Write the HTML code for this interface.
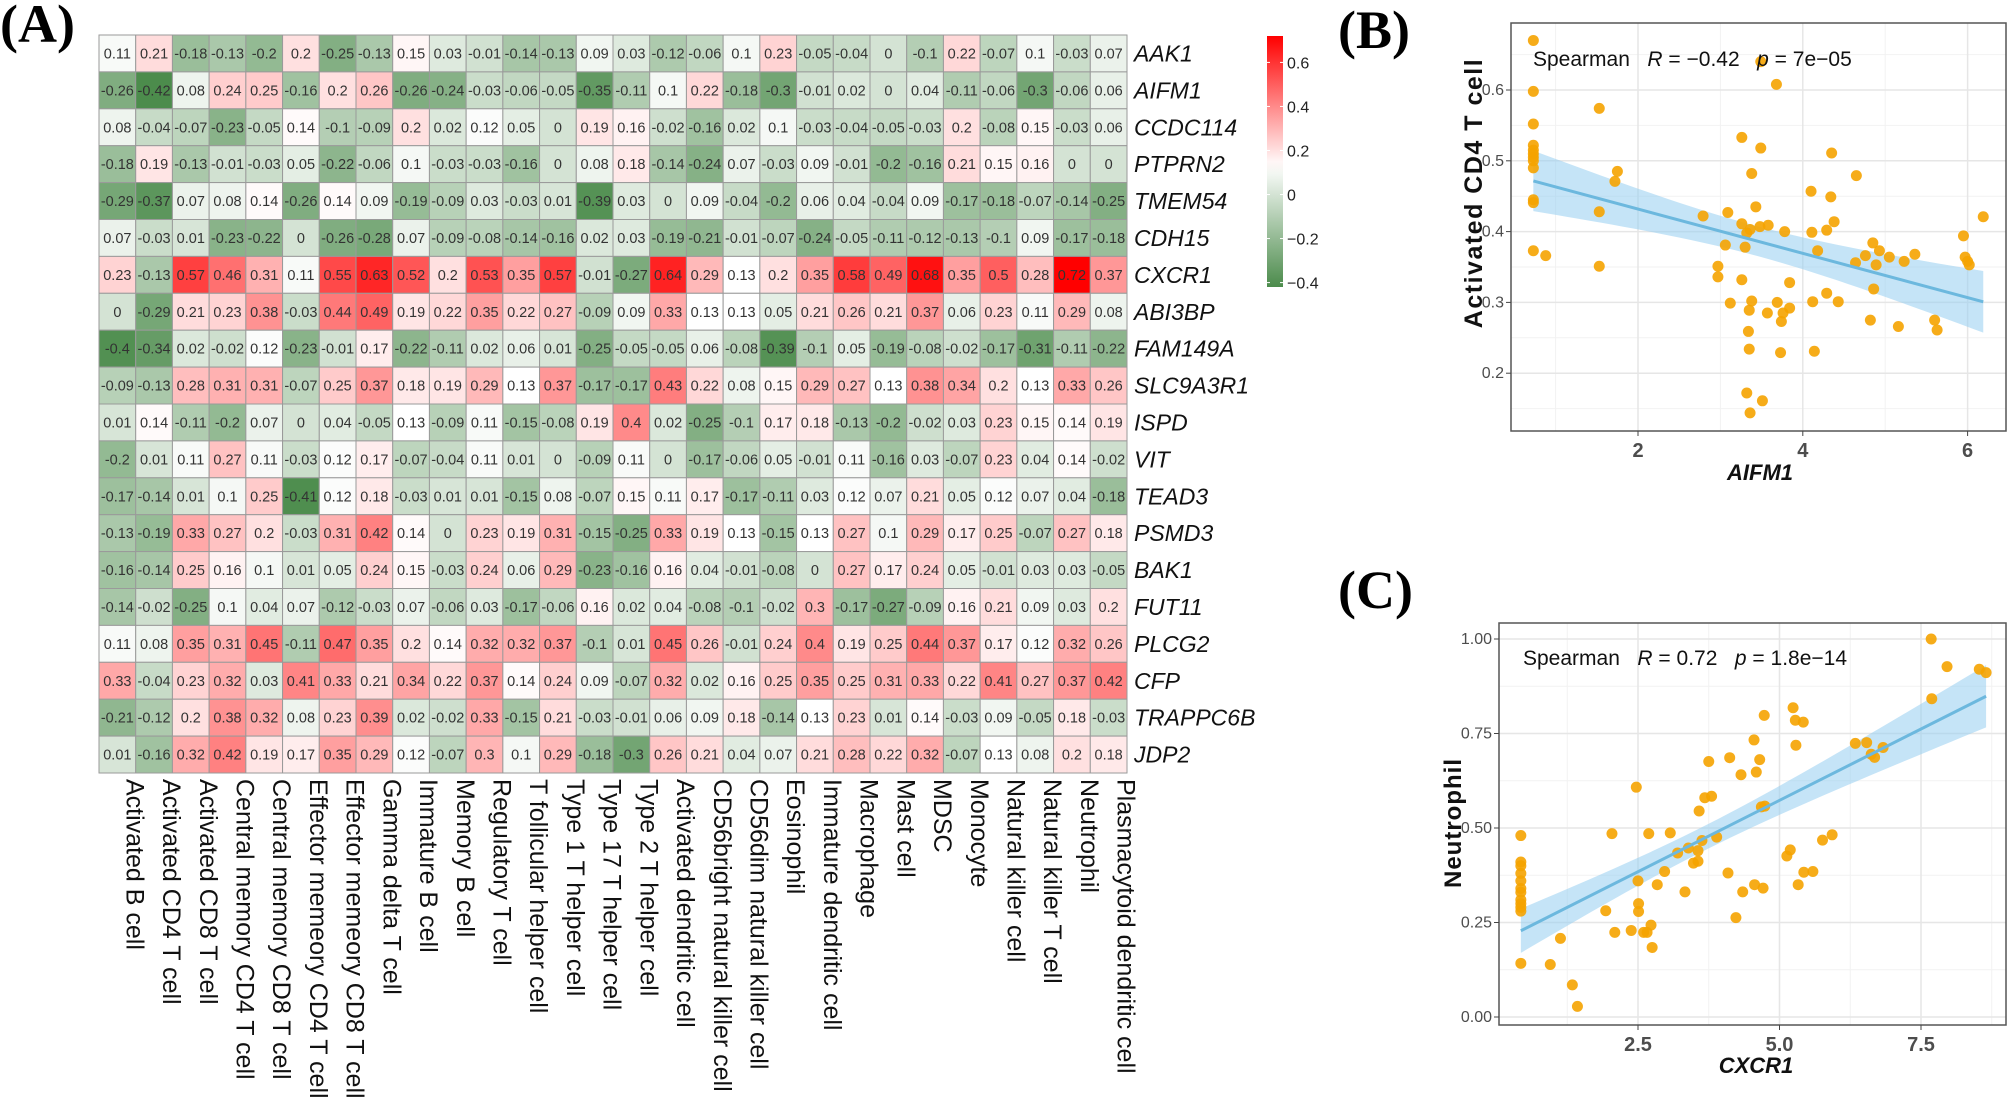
<!DOCTYPE html>
<html><head><meta charset="utf-8"><style>
html,body{margin:0;padding:0;background:#fff;}
svg{display:block;}
text{font-family:"Liberation Sans",Arial,sans-serif;}
</style></head><body>
<svg id="fig" width="2008" height="1100" viewBox="0 0 2008 1100" xmlns="http://www.w3.org/2000/svg">
<text x="0" y="42" style="font-family:'Liberation Serif',serif" font-weight="bold" font-size="54">(A)</text>
<text x="1338" y="48" style="font-family:'Liberation Serif',serif" font-weight="bold" font-size="54">(B)</text>
<text x="1338" y="608" style="font-family:'Liberation Serif',serif" font-weight="bold" font-size="54">(C)</text>
<g id="heat"></g>
<g id="legend"></g>
<g id="pb"></g>
<g id="pc"></g>
</svg>
<script>
const genes=["AAK1","AIFM1","CCDC114","PTPRN2","TMEM54","CDH15","CXCR1","ABI3BP","FAM149A","SLC9A3R1","ISPD","VIT","TEAD3","PSMD3","BAK1","FUT11","PLCG2","CFP","TRAPPC6B","JDP2"];
const cells=["Activated B cell","Activated CD4 T cell","Activated CD8 T cell","Central memory CD4 T cell","Central memory CD8 T cell","Effector memeory CD4 T cell","Effector memeory CD8 T cell","Gamma delta T cell","Immature  B cell","Memory B cell","Regulatory T cell","T follicular helper cell","Type 1 T helper cell","Type 17 T helper cell","Type 2 T helper cell","Activated dendritic cell","CD56bright natural killer cell","CD56dim natural killer cell","Eosinophil","Immature dendritic cell","Macrophage","Mast cell","MDSC","Monocyte","Natural killer cell","Natural killer T cell","Neutrophil","Plasmacytoid dendritic cell"];
const corr=[
[0.11,0.21,-0.18,-0.13,-0.2,0.2,-0.25,-0.13,0.15,0.03,-0.01,-0.14,-0.13,0.09,0.03,-0.12,-0.06,0.1,0.23,-0.05,-0.04,0,-0.1,0.22,-0.07,0.1,-0.03,0.07],
[-0.26,-0.42,0.08,0.24,0.25,-0.16,0.2,0.26,-0.26,-0.24,-0.03,-0.06,-0.05,-0.35,-0.11,0.1,0.22,-0.18,-0.3,-0.01,0.02,0,0.04,-0.11,-0.06,-0.3,-0.06,0.06],
[0.08,-0.04,-0.07,-0.23,-0.05,0.14,-0.1,-0.09,0.2,0.02,0.12,0.05,0,0.19,0.16,-0.02,-0.16,0.02,0.1,-0.03,-0.04,-0.05,-0.03,0.2,-0.08,0.15,-0.03,0.06],
[-0.18,0.19,-0.13,-0.01,-0.03,0.05,-0.22,-0.06,0.1,-0.03,-0.03,-0.16,0,0.08,0.18,-0.14,-0.24,0.07,-0.03,0.09,-0.01,-0.2,-0.16,0.21,0.15,0.16,0,0],
[-0.29,-0.37,0.07,0.08,0.14,-0.26,0.14,0.09,-0.19,-0.09,0.03,-0.03,0.01,-0.39,0.03,0,0.09,-0.04,-0.2,0.06,0.04,-0.04,0.09,-0.17,-0.18,-0.07,-0.14,-0.25],
[0.07,-0.03,0.01,-0.23,-0.22,0,-0.26,-0.28,0.07,-0.09,-0.08,-0.14,-0.16,0.02,0.03,-0.19,-0.21,-0.01,-0.07,-0.24,-0.05,-0.11,-0.12,-0.13,-0.1,0.09,-0.17,-0.18],
[0.23,-0.13,0.57,0.46,0.31,0.11,0.55,0.63,0.52,0.2,0.53,0.35,0.57,-0.01,-0.27,0.64,0.29,0.13,0.2,0.35,0.58,0.49,0.68,0.35,0.5,0.28,0.72,0.37],
[0,-0.29,0.21,0.23,0.38,-0.03,0.44,0.49,0.19,0.22,0.35,0.22,0.27,-0.09,0.09,0.33,0.13,0.13,0.05,0.21,0.26,0.21,0.37,0.06,0.23,0.11,0.29,0.08],
[-0.4,-0.34,0.02,-0.02,0.12,-0.23,-0.01,0.17,-0.22,-0.11,0.02,0.06,0.01,-0.25,-0.05,-0.05,0.06,-0.08,-0.39,-0.1,0.05,-0.19,-0.08,-0.02,-0.17,-0.31,-0.11,-0.22],
[-0.09,-0.13,0.28,0.31,0.31,-0.07,0.25,0.37,0.18,0.19,0.29,0.13,0.37,-0.17,-0.17,0.43,0.22,0.08,0.15,0.29,0.27,0.13,0.38,0.34,0.2,0.13,0.33,0.26],
[0.01,0.14,-0.11,-0.2,0.07,0,0.04,-0.05,0.13,-0.09,0.11,-0.15,-0.08,0.19,0.4,0.02,-0.25,-0.1,0.17,0.18,-0.13,-0.2,-0.02,0.03,0.23,0.15,0.14,0.19],
[-0.2,0.01,0.11,0.27,0.11,-0.03,0.12,0.17,-0.07,-0.04,0.11,0.01,0,-0.09,0.11,0,-0.17,-0.06,0.05,-0.01,0.11,-0.16,0.03,-0.07,0.23,0.04,0.14,-0.02],
[-0.17,-0.14,0.01,0.1,0.25,-0.41,0.12,0.18,-0.03,0.01,0.01,-0.15,0.08,-0.07,0.15,0.11,0.17,-0.17,-0.11,0.03,0.12,0.07,0.21,0.05,0.12,0.07,0.04,-0.18],
[-0.13,-0.19,0.33,0.27,0.2,-0.03,0.31,0.42,0.14,0,0.23,0.19,0.31,-0.15,-0.25,0.33,0.19,0.13,-0.15,0.13,0.27,0.1,0.29,0.17,0.25,-0.07,0.27,0.18],
[-0.16,-0.14,0.25,0.16,0.1,0.01,0.05,0.24,0.15,-0.03,0.24,0.06,0.29,-0.23,-0.16,0.16,0.04,-0.01,-0.08,0,0.27,0.17,0.24,0.05,-0.01,0.03,0.03,-0.05],
[-0.14,-0.02,-0.25,0.1,0.04,0.07,-0.12,-0.03,0.07,-0.06,0.03,-0.17,-0.06,0.16,0.02,0.04,-0.08,-0.1,-0.02,0.3,-0.17,-0.27,-0.09,0.16,0.21,0.09,0.03,0.2],
[0.11,0.08,0.35,0.31,0.45,-0.11,0.47,0.35,0.2,0.14,0.32,0.32,0.37,-0.1,0.01,0.45,0.26,-0.01,0.24,0.4,0.19,0.25,0.44,0.37,0.17,0.12,0.32,0.26],
[0.33,-0.04,0.23,0.32,0.03,0.41,0.33,0.21,0.34,0.22,0.37,0.14,0.24,0.09,-0.07,0.32,0.02,0.16,0.25,0.35,0.25,0.31,0.33,0.22,0.41,0.27,0.37,0.42],
[-0.21,-0.12,0.2,0.38,0.32,0.08,0.23,0.39,0.02,-0.02,0.33,-0.15,0.21,-0.03,-0.01,0.06,0.09,0.18,-0.14,0.13,0.23,0.01,0.14,-0.03,0.09,-0.05,0.18,-0.03],
[0.01,-0.16,0.32,0.42,0.19,0.17,0.35,0.29,0.12,-0.07,0.3,0.1,0.29,-0.18,-0.3,0.26,0.21,0.04,0.07,0.21,0.28,0.22,0.32,-0.07,0.13,0.08,0.2,0.18]];
const legendTicks=[0.6,0.4,0.2,0,-0.2,-0.4];
const bX=[0.73,0.73,0.73,0.73,0.73,0.73,0.73,0.73,0.73,0.73,0.73,0.73,0.88,1.53,1.53,1.53,1.72,1.75,2.79,2.97,2.97,3.09,3.06,3.12,3.26,3.26,3.26,3.30,3.32,3.36,3.34,3.35,3.35,3.32,3.36,3.38,3.38,3.43,3.49,3.48,3.49,3.58,3.57,3.68,3.69,3.74,3.76,3.73,3.78,3.84,3.84,3.51,4.10,4.11,4.12,4.14,4.18,4.29,4.29,4.34,4.35,4.38,4.43,4.65,4.64,4.76,4.82,4.85,4.89,4.86,4.93,5.05,5.23,5.16,5.36,5.60,5.63,5.95,5.97,6.00,6.02,6.19];
const bY=[0.67,0.598,0.552,0.522,0.515,0.51,0.505,0.50,0.49,0.445,0.441,0.373,0.366,0.574,0.428,0.351,0.471,0.485,0.422,0.351,0.336,0.427,0.381,0.299,0.533,0.411,0.332,0.378,0.398,0.403,0.259,0.289,0.234,0.172,0.144,0.482,0.302,0.435,0.518,0.407,0.64,0.409,0.285,0.608,0.30,0.273,0.285,0.229,0.40,0.328,0.292,0.161,0.457,0.399,0.301,0.231,0.373,0.402,0.313,0.449,0.511,0.414,0.301,0.479,0.356,0.366,0.275,0.384,0.353,0.319,0.373,0.364,0.358,0.266,0.368,0.275,0.261,0.394,0.364,0.358,0.353,0.421];
const bXTicks=[2,4,6];
const bYTicks=[0.2,0.3,0.4,0.5,0.6];
const cX=[0.43,0.43,0.43,0.43,0.43,0.43,0.43,0.43,0.43,0.43,0.43,0.43,0.95,1.13,1.34,1.43,1.93,2.04,2.09,2.38,2.47,2.5,2.51,2.51,2.60,2.66,2.69,2.73,2.75,2.84,2.97,3.07,3.20,3.33,3.39,3.48,3.56,3.56,3.58,3.63,3.68,3.75,3.80,3.89,4.09,4.12,4.23,4.32,4.35,4.55,4.56,4.59,4.65,4.71,4.68,4.74,4.73,5.13,5.19,5.24,5.28,5.29,5.33,5.42,5.43,5.59,5.76,5.93,6.34,6.54,6.62,6.68,6.83,7.68,7.69,7.96,8.53,8.65];
const cY=[0.48,0.41,0.40,0.38,0.36,0.34,0.33,0.31,0.30,0.29,0.28,0.142,0.139,0.208,0.085,0.028,0.281,0.485,0.224,0.229,0.608,0.36,0.30,0.279,0.224,0.224,0.485,0.243,0.184,0.35,0.385,0.487,0.434,0.331,0.447,0.407,0.412,0.44,0.545,0.467,0.58,0.676,0.584,0.476,0.381,0.686,0.263,0.641,0.331,0.733,0.35,0.648,0.681,0.341,0.556,0.558,0.798,0.426,0.442,0.818,0.785,0.719,0.35,0.78,0.383,0.385,0.468,0.482,0.724,0.726,0.695,0.687,0.713,1.0,0.842,0.927,0.92,0.911];
const cXTicks=[2.5,5.0,7.5];
const cYTicks=[0,0.25,0.5,0.75,1.0];

const NS="http://www.w3.org/2000/svg";
const NARROW="font-family:'Liberation Sans Narrow','Liberation Sans',sans-serif";
function mk(tag,attrs,parent,txt){const e=document.createElementNS(NS,tag);for(const k in attrs)e.setAttribute(k,attrs[k]);if(txt!==undefined)e.textContent=txt;parent.appendChild(e);return e;}

const hx0=99,hy0=35,cw=(1127-99)/28,ch=(773-35)/20;
const MID=0.13,LO=-0.42,HI=0.72;
function color(v){
  let r,g,b;
  if(v<MID){let t=Math.min(1,(MID-v)/(MID-LO));r=255+(76-255)*t;g=255+(140-255)*t;b=255+(76-255)*t;}
  else{let t=Math.min(1,(v-MID)/(HI-MID));r=255;g=255*(1-t);b=255*(1-t);}
  return `rgb(${r|0},${g|0},${b|0})`;
}
const heat=document.getElementById('heat');
corr.forEach((row,i)=>{row.forEach((v,j)=>{
  const x=hx0+j*cw,y=hy0+i*ch;
  const r=mk('rect',{x:x,y:y,width:cw,height:ch,fill:color(v),stroke:'#9a9a9a','stroke-width':1},heat);
  
  
  const t=mk('text',{x:x+cw/2,y:y+ch/2+5,'text-anchor':'middle','font-size':14.5,fill:'#333'},heat,String(v));
  
  
});});
genes.forEach((g,i)=>{
  const t=mk('text',{x:1134,y:hy0+i*ch+ch/2+8,'font-size':23,'font-style':'italic',fill:'#111'},heat,g);
  
  
});
cells.forEach((c,j)=>{
  const x=hx0+j*cw+cw/2+9,y=779;
  const t=mk('text',{x:x,y:y,'font-size':25,fill:'#111',transform:`rotate(90 ${x} ${y})`},heat,c);
  
  
});
const lg=document.getElementById('legend');
const defs=mk('defs',{},lg);
const grad=mk('linearGradient',{id:'lgrad',x1:0,y1:1,x2:0,y2:0},defs);
for(let k=0;k<=20;k++){const v=LO+(HI-LO)*k/20;mk('stop',{offset:k/20,'stop-color':color(v)},grad);}
const lTop=36,lBot=287;
const ly=v=>lBot-(v-LO)/(HI-LO)*(lBot-lTop);
const lb=mk('rect',{x:1267,y:lTop,width:16,height:lBot-lTop,fill:'url(#lgrad)'},lg);


legendTicks.forEach(v=>{
  mk('line',{x1:1267,x2:1270,y1:ly(v),y2:ly(v),stroke:'#fff'},lg);
  mk('line',{x1:1280,x2:1283,y1:ly(v),y2:ly(v),stroke:'#fff'},lg);
  const t=mk('text',{x:1287,y:ly(v)+6,'font-size':16,fill:'#222'},lg,v===0?'0':(v<0?'\u2212'+Math.abs(v):String(v)));
  
  
});

function scatter(g,X,Y,o){
  const sx=v=>o.xa+(v-o.xv)*o.xs, sy=v=>o.ya-(v-o.yv)*o.ys;
  const bg=mk('rect',{x:o.L,y:o.T,width:o.R-o.L,height:o.B-o.T,fill:'#fff'},g);
  
  o.xminor.forEach(v=>mk('line',{x1:sx(v),x2:sx(v),y1:o.T,y2:o.B,stroke:'#f2f2f2','stroke-width':1},g));
  o.yminor.forEach(v=>mk('line',{x1:o.L,x2:o.R,y1:sy(v),y2:sy(v),stroke:'#f2f2f2','stroke-width':1},g));
  o.xt.forEach(v=>mk('line',{x1:sx(v),x2:sx(v),y1:o.T,y2:o.B,stroke:'#e6e6e6','stroke-width':1.5},g));
  o.yt.forEach(v=>mk('line',{x1:o.L,x2:o.R,y1:sy(v),y2:sy(v),stroke:'#e6e6e6','stroke-width':1.5},g));
  const n=X.length;let mx=0,my=0;for(let i=0;i<n;i++){mx+=X[i];my+=Y[i];}mx/=n;my/=n;
  let sxx=0,sxy=0;for(let i=0;i<n;i++){sxx+=(X[i]-mx)**2;sxy+=(X[i]-mx)*(Y[i]-my);}
  const b=sxy/sxx,a=my-b*mx;let sse=0;for(let i=0;i<n;i++)sse+=(Y[i]-a-b*X[i])**2;
  const s=Math.sqrt(sse/(n-2));const x0=Math.min(...X),x1=Math.max(...X);
  let up=[],dn=[];for(let k=0;k<=40;k++){const x=x0+(x1-x0)*k/40;const se=1.99*s*Math.sqrt(1/n+(x-mx)**2/sxx);const f=a+b*x;up.push(sx(x)+','+sy(f+se));dn.unshift(sx(x)+','+sy(f-se));}
  const band=mk('polygon',{points:up.concat(dn).join(' '),fill:'rgba(150,205,240,0.55)'},g);
  
  X.forEach((x,i)=>{const c=mk('circle',{cx:sx(x),cy:sy(Y[i]),r:5.5,fill:'rgba(245,163,0,0.9)'},g);
    });
  const ln=mk('line',{x1:sx(x0),y1:sy(a+b*x0),x2:sx(x1),y2:sy(a+b*x1),stroke:'#6cb8de','stroke-width':3},g);
  
  mk('rect',{x:o.L,y:o.T,width:o.R-o.L,height:o.B-o.T,fill:'none',stroke:'#555','stroke-width':1.5},g);
  o.xt.forEach(v=>{mk('line',{x1:sx(v),x2:sx(v),y1:o.B,y2:o.B+5,stroke:'#444'},g);
    const t=mk('text',{x:sx(v),y:o.B+26,'text-anchor':'middle','font-size':20,style:NARROW,'font-weight':'bold',fill:'#4d4d4d'},g,o.xf(v));
    });
  o.yt.forEach(v=>{mk('line',{x1:o.L-5,x2:o.L,y1:sy(v),y2:sy(v),stroke:'#444'},g);
    const t=mk('text',{x:o.L-7,y:sy(v)+5,'text-anchor':'end','font-size':16,style:NARROW,fill:'#4d4d4d'},g,o.yf(v));
    });
  const xl=mk('text',{x:o.xlx,y:o.xly,'text-anchor':'middle','font-size':22,'font-weight':'bold','font-style':'italic',fill:'#111'},g,o.xlab);
  
  const yl=mk('text',{x:o.ylx,y:o.yly,'text-anchor':'middle','font-size':o.ylfs,'letter-spacing':o.ylls,'font-weight':'bold',fill:'#111',transform:`rotate(-90 ${o.ylx} ${o.yly})`},g,o.ylab);
  
  const an=mk('text',{x:o.anx,y:o.any,'font-size':21,style:NARROW,fill:'#111'},g);
  
  an.innerHTML=o.ann;
}
scatter(document.getElementById('pb'),bX,bY,{L:1511,R:2006,T:23,B:431,xa:1638,xv:2,xs:82.4,ya:90,yv:0.6,ys:708,
  xt:bXTicks,yt:bYTicks,xminor:[1,3,5],yminor:[0.15,0.25,0.35,0.45,0.55,0.65],xf:v=>String(v),yf:v=>v.toFixed(1),
  xlab:'AIFM1',xlx:1760,xly:480,ylab:'Activated CD4 T cell',ylfs:25,ylls:1.5,ylx:1482,yly:193,anx:1533,any:66,
  ann:'Spearman &#160;&#160;<tspan font-style="italic">R</tspan> = \u22120.42 &#160;&#160;<tspan font-style="italic">p</tspan> = 7e\u221205'});
scatter(document.getElementById('pc'),cX,cY,{L:1499,R:2006,T:623,B:1025,xa:1638,xv:2.5,xs:56.6,ya:1017,yv:0,ys:378,
  xt:cXTicks,yt:cYTicks,xminor:[1.25,3.75,6.25,8.75],yminor:[0.125,0.375,0.625,0.875],xf:v=>v.toFixed(1),yf:v=>v.toFixed(2),
  xlab:'CXCR1',xlx:1756,xly:1073,ylab:'Neutrophil',ylfs:24,ylls:1,ylx:1461,yly:823,anx:1523,any:665,
  ann:'Spearman &#160;&#160;<tspan font-style="italic">R</tspan> = 0.72 &#160;&#160;<tspan font-style="italic">p</tspan> = 1.8e\u221214'});
</script>
</body></html>
